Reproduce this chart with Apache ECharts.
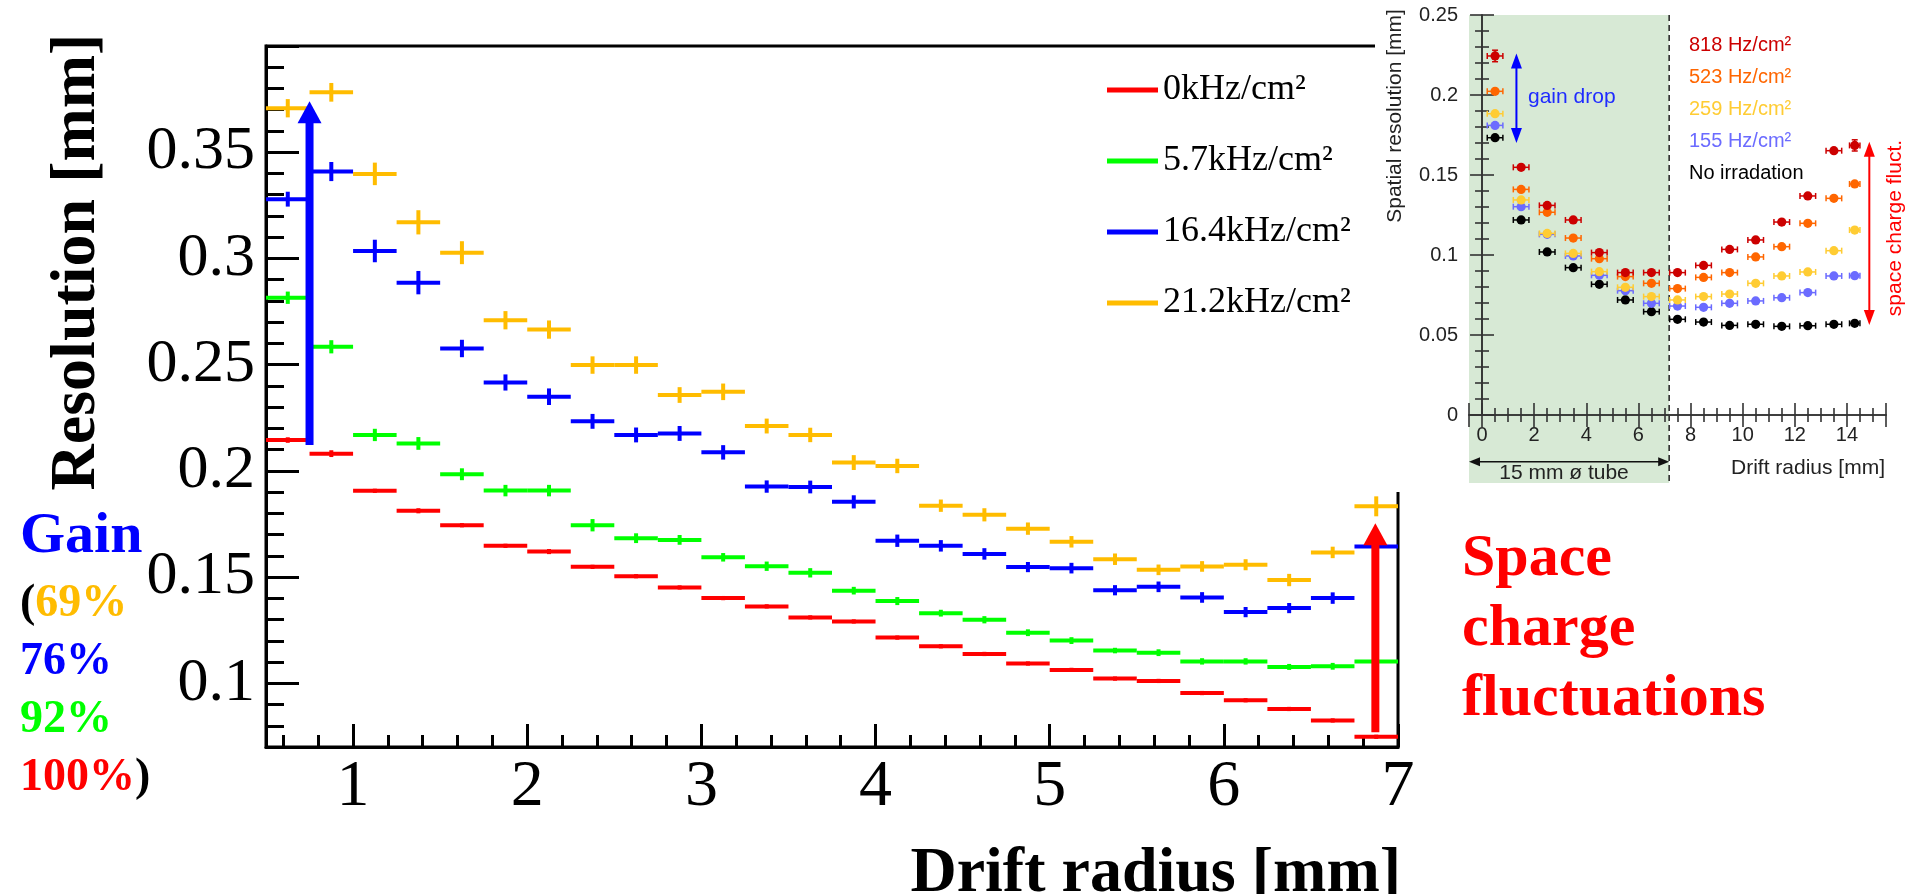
<!DOCTYPE html>
<html>
<head>
<meta charset="utf-8">
<title>Drift-tube spatial resolution vs. drift radius</title>
<script src="https://cdn.jsdelivr.net/npm/echarts@6/dist/echarts.min.js"></script>
<style>
  html, body { margin: 0; padding: 0; background: #ffffff; }
  #chart { width: 1907px; height: 894px; }
</style>
</head>
<body>
<div id="chart"></div>
<script>
// ---------- Main plot: resolution in 0.25 mm drift-radius bins ----------
const radiusBins = [0.625, 0.875, 1.125, 1.375, 1.625, 1.875, 2.125, 2.375, 2.625, 2.875,
                    3.125, 3.375, 3.625, 3.875, 4.125, 4.375, 4.625, 4.875, 5.125, 5.375,
                    5.625, 5.875, 6.125, 6.375, 6.625, 6.875];
const binHalfWidth = 0.125;

const rateLabels = ['0kHz/cm²', '5.7kHz/cm²', '16.4kHz/cm²', '21.2kHz/cm²'];
const rateColors = ['#ff0000', '#00ff00', '#0000ff', '#ffbc00'];

const res0 = [0.2145, 0.2081, 0.1906, 0.1812, 0.1744, 0.1647, 0.1620, 0.1548, 0.1504, 0.1451,
              0.1401, 0.1362, 0.1310, 0.1291, 0.1215, 0.1174, 0.1138, 0.1093, 0.1063, 0.1022,
              0.1011, 0.0954, 0.0920, 0.0879, 0.0825, 0.0748];
const res57 = [0.2815, 0.2584, 0.2169, 0.2129, 0.1984, 0.1907, 0.1907, 0.1744, 0.1683, 0.1675,
               0.1593, 0.1551, 0.1520, 0.1436, 0.1387, 0.1330, 0.1299, 0.1238, 0.1201, 0.1154,
               0.1144, 0.1103, 0.1103, 0.1077, 0.1080, 0.1103];
const res164 = [0.3279, 0.3409, 0.3035, 0.2886, 0.2576, 0.2416, 0.2349, 0.2233, 0.2169, 0.2176,
                0.2087, 0.1926, 0.1924, 0.1854, 0.1671, 0.1647, 0.1609, 0.1547, 0.1542, 0.1438,
                0.1454, 0.1404, 0.1335, 0.1354, 0.1401, 0.1644];
const res212 = [0.3707, 0.3782, 0.3398, 0.3170, 0.3027, 0.2709, 0.2665, 0.2498, 0.2498, 0.2357,
                0.2372, 0.2211, 0.2169, 0.2039, 0.2023, 0.1836, 0.1793, 0.1728, 0.1666, 0.1584,
                0.1534, 0.1550, 0.1558, 0.1486, 0.1616, 0.1833];

const err0 = [0.0013, 0.0016, 0.0010, 0.0012, 0.0010, 0.0010, 0.0012, 0.0010, 0.0010, 0.0010,
              0.0010, 0.0010, 0.0010, 0.0010, 0.0010, 0.0010, 0.0010, 0.0010, 0.0010, 0.0010,
              0.0010, 0.0010, 0.0010, 0.0010, 0.0010, 0.0010];
const err57 = [0.0029, 0.0031, 0.0029, 0.0030, 0.0028, 0.0027, 0.0027, 0.0029, 0.0023, 0.0023,
               0.0020, 0.0022, 0.0022, 0.0018, 0.0019, 0.0016, 0.0017, 0.0016, 0.0016, 0.0013,
               0.0016, 0.0015, 0.0015, 0.0014, 0.0016, 0.0010];
const err164 = [0.0035, 0.0045, 0.0053, 0.0055, 0.0041, 0.0038, 0.0039, 0.0035, 0.0035, 0.0035,
                0.0034, 0.0029, 0.0030, 0.0031, 0.0029, 0.0027, 0.0027, 0.0024, 0.0025, 0.0024,
                0.0025, 0.0025, 0.0024, 0.0024, 0.0027, 0.0020];
const err212 = [0.0043, 0.0044, 0.0053, 0.0057, 0.0054, 0.0043, 0.0043, 0.0041, 0.0041, 0.0037,
                0.0039, 0.0035, 0.0034, 0.0035, 0.0034, 0.0029, 0.0031, 0.0029, 0.0027, 0.0027,
                0.0025, 0.0025, 0.0026, 0.0029, 0.0027, 0.0047];

const mainValues = [res0, res57, res164, res212];
const mainErrors = [err0, err57, err164, err212];

// Annotation arrows on the main plot: [x, from, to]
const arrowX = [0.75, 6.87];
const arrowFrom = [0.2122, 0.077];
const arrowTo = [0.374, 0.1753];
const arrowColors = ['#0000ff', '#ff0000'];

// ---------- Inset: resolution vs drift radius for several irradiation rates ----------
const insetRadius = [0.5, 1.5, 2.5, 3.5, 4.5, 5.5, 6.5, 7.5, 8.5, 9.5, 10.5, 11.5, 12.5, 13.5, 14.3];
const insetXErr = [0.3, 0.3, 0.3, 0.3, 0.3, 0.3, 0.3, 0.3, 0.3, 0.3, 0.3, 0.3, 0.3, 0.3, 0.2];
const insetLabels = ['818 Hz/cm²', '523 Hz/cm²', '259 Hz/cm²', '155 Hz/cm²', 'No irradation'];
const insetColors = ['#cc0000', '#ff6600', '#ffcc33', '#6b6bff', '#000000'];
const res818 = [0.2244, 0.1548, 0.1310, 0.1219, 0.1015, 0.0890, 0.0890, 0.0890, 0.0935, 0.1035,
                0.1094, 0.1206, 0.1369, 0.1652, 0.1685];
const res523 = [0.2023, 0.1410, 0.1267, 0.1106, 0.0977, 0.0865, 0.0823, 0.0790, 0.0860, 0.0890,
                0.0988, 0.1052, 0.1198, 0.1354, 0.1444];
const res259 = [0.1883, 0.1344, 0.1135, 0.1010, 0.0896, 0.0798, 0.0740, 0.0719, 0.0740, 0.0756,
                0.0823, 0.0869, 0.0894, 0.1027, 0.1156];
const res155 = [0.1810, 0.1302, 0.1129, 0.0994, 0.0873, 0.0777, 0.0698, 0.0681, 0.0673, 0.0698,
                0.0713, 0.0733, 0.0765, 0.0869, 0.0871];
const resNoIrr = [0.1733, 0.1219, 0.1019, 0.0921, 0.0817, 0.0719, 0.0646, 0.0598, 0.0581, 0.0560,
                  0.0567, 0.0554, 0.0558, 0.0567, 0.0573];
const err818 = [0.0036, 0, 0, 0, 0, 0, 0, 0, 0, 0, 0, 0, 0, 0, 0.0035];
const insetValues = [res818, res523, res259, res155, resNoIrr];

// Inset annotations
const tubeEdge = 7.18;            // end of the 15 mm tube radius band
const tubeBandBottom = -0.0425;   // band continues under the tick labels
const tubeArrowY = -0.0292;
const insetArrowX = [1.32, 14.86];
const insetArrowLow = [0.17, 0.0563];
const insetArrowHigh = [0.226, 0.1708];
const insetArrowColors = ['#0000ff', '#ff0000'];

const SERIF = '"Liberation Serif", "Times New Roman", serif';
const SANS = '"Liberation Sans", Arial, Helvetica, sans-serif';

function binRenderer(color) {
  return function (params, api) {
    const x = api.value(0), y = api.value(1), e = api.value(2);
    const pL = api.coord([x - binHalfWidth, y]);
    const pR = api.coord([x + binHalfWidth, y]);
    const pT = api.coord([x, y + e]);
    const pB = api.coord([x, y - e]);
    return {
      type: 'group',
      children: [
        { type: 'line', shape: { x1: pL[0], y1: pL[1], x2: pR[0], y2: pR[1] },
          style: { stroke: color, lineWidth: 4 } },
        { type: 'line', shape: { x1: pT[0], y1: pT[1], x2: pB[0], y2: pB[1] },
          style: { stroke: color, lineWidth: 4 } }
      ]
    };
  };
}

function arrowRenderer(params, api) {
  const x = api.value(0), y0 = api.value(1), y1 = api.value(2);
  const color = arrowColors[params.dataIndex];
  const base = api.coord([x, y0]);
  const tip = api.coord([x, y1]);
  const headH = 22, headW = 12, shaftW = 8;
  return {
    type: 'group',
    children: [
      { type: 'rect', shape: { x: base[0] - shaftW / 2, y: tip[1] + headH - 1, width: shaftW, height: base[1] - tip[1] - headH + 1 },
        style: { fill: color } },
      { type: 'polygon', shape: { points: [[tip[0], tip[1]], [tip[0] - headW, tip[1] + headH], [tip[0] + headW, tip[1] + headH]] },
        style: { fill: color } }
    ]
  };
}

function insetPointRenderer(color) {
  return function (params, api) {
    const x = api.value(0), y = api.value(1), ex = api.value(2), ey = api.value(3);
    const c = api.coord([x, y]);
    const l = api.coord([x - ex, y]);
    const r = api.coord([x + ex, y]);
    const st = { stroke: color, lineWidth: 1.5 };
    const children = [
      { type: 'line', shape: { x1: l[0], y1: c[1], x2: r[0], y2: c[1] }, style: st },
      { type: 'line', shape: { x1: l[0], y1: c[1] - 3, x2: l[0], y2: c[1] + 3 }, style: st },
      { type: 'line', shape: { x1: r[0], y1: c[1] - 3, x2: r[0], y2: c[1] + 3 }, style: st }
    ];
    if (ey > 0) {
      const t = api.coord([x, y + ey]);
      const b = api.coord([x, y - ey]);
      children.push({ type: 'line', shape: { x1: c[0], y1: t[1], x2: c[0], y2: b[1] }, style: st });
      children.push({ type: 'line', shape: { x1: c[0] - 3, y1: t[1], x2: c[0] + 3, y2: t[1] }, style: st });
      children.push({ type: 'line', shape: { x1: c[0] - 3, y1: b[1], x2: c[0] + 3, y2: b[1] }, style: st });
    }
    children.push({ type: 'circle', shape: { cx: c[0], cy: c[1], r: 4.6 }, style: { fill: color } });
    return { type: 'group', children: children };
  };
}

function tubeBandRenderer(params, api) {
  const tl = api.coord([-0.5, 0.25]);
  const br = api.coord([tubeEdge, tubeBandBottom]);
  const a = api.coord([-0.5, tubeArrowY]);
  const b = api.coord([tubeEdge, tubeArrowY]);
  const hs = 11, hw = 4.5;
  return {
    type: 'group',
    children: [
      { type: 'rect', shape: { x: tl[0], y: tl[1], width: br[0] - tl[0], height: br[1] - tl[1] },
        style: { fill: '#d7e9d5' } },
      { type: 'line', shape: { x1: br[0], y1: tl[1], x2: br[0], y2: br[1] },
        style: { stroke: '#222', lineWidth: 1.5, lineDash: [6, 4] } },
      { type: 'line', shape: { x1: a[0] + 4, y1: a[1], x2: b[0] - 4, y2: b[1] },
        style: { stroke: '#111', lineWidth: 1.5 } },
      { type: 'polygon', shape: { points: [[a[0], a[1]], [a[0] + hs, a[1] - hw], [a[0] + hs, a[1] + hw]] },
        style: { fill: '#111' } },
      { type: 'polygon', shape: { points: [[b[0], b[1]], [b[0] - hs, b[1] - hw], [b[0] - hs, b[1] + hw]] },
        style: { fill: '#111' } }
    ]
  };
}

function insetArrowRenderer(params, api) {
  const x = api.value(0), lo = api.value(1), hi = api.value(2);
  const color = insetArrowColors[params.dataIndex];
  const p0 = api.coord([x, lo]);
  const p1 = api.coord([x, hi]);
  const hs = 15, hw = 5.5;
  return {
    type: 'group',
    children: [
      { type: 'line', shape: { x1: p0[0], y1: p0[1] - 4, x2: p1[0], y2: p1[1] + 4 },
        style: { stroke: color, lineWidth: 2 } },
      { type: 'polygon', shape: { points: [[p1[0], p1[1]], [p1[0] - hw, p1[1] + hs], [p1[0] + hw, p1[1] + hs]] },
        style: { fill: color } },
      { type: 'polygon', shape: { points: [[p0[0], p0[1]], [p0[0] - hw, p0[1] - hs], [p0[0] + hw, p0[1] - hs]] },
        style: { fill: color } }
    ]
  };
}

const mainSeries = rateLabels.map((name, k) => ({
  name: name,
  type: 'custom',
  xAxisIndex: 0,
  yAxisIndex: 0,
  renderItem: binRenderer(rateColors[k]),
  itemStyle: { color: rateColors[k] },
  encode: { x: 0, y: 1 },
  data: radiusBins.map((r, i) => [r, mainValues[k][i], mainErrors[k][i]]),
  z: 3
}));

const insetOrder = [4, 3, 2, 1, 0];
const insetSeries = insetOrder.map(k => ({
  name: insetLabels[k],
  type: 'custom',
  xAxisIndex: 1,
  yAxisIndex: 1,
  renderItem: insetPointRenderer(insetColors[k]),
  itemStyle: { color: insetColors[k] },
  encode: { x: 0, y: 1 },
  data: insetRadius.map((r, i) => [r, insetValues[k][i], insetXErr[i], k === 0 ? err818[i] : 0]),
  z: 40
}));

const tickLine = { color: '#000', width: 3 };
const insetLine = { color: '#333', width: 1.6 };

const option = {
  animation: false,
  backgroundColor: '#ffffff',
  grid: [
    { left: 266, top: 46, width: 1132, height: 701, show: true, borderColor: '#000', borderWidth: 3,
      backgroundColor: 'transparent', z: 0 },
    { left: 1469, top: 15, width: 417, height: 400, show: false, z: 30 }
  ],
  xAxis: [
    { gridIndex: 0, type: 'value', min: 0.5, max: 7, splitLine: { show: false },
      axisLine: { lineStyle: tickLine },
      axisTick: { inside: true, length: 23, lineStyle: tickLine },
      minorTick: { show: true, splitNumber: 5, length: 12, lineStyle: tickLine },
      axisLabel: { fontFamily: SERIF, fontSize: 66, color: '#000', margin: 8, showMinLabel: false } },
    { gridIndex: 1, type: 'value', min: -0.5, max: 15.5, splitNumber: 8, splitLine: { show: false }, z: 32,
      axisLine: { lineStyle: insetLine },
      axisTick: { inside: true, length: 12, lineStyle: insetLine },
      minorTick: { show: true, splitNumber: 4, length: 7, lineStyle: insetLine },
      axisLabel: { fontFamily: SANS, fontSize: 20, color: '#222', margin: 10, showMinLabel: false, showMaxLabel: false } },
    { gridIndex: 1, type: 'value', position: 'top', min: -0.5, max: 15.5, splitNumber: 8, splitLine: { show: false }, z: 32,
      axisLine: { lineStyle: insetLine },
      axisTick: { inside: true, length: 12, lineStyle: insetLine },
      minorTick: { show: true, splitNumber: 4, length: 7, lineStyle: insetLine },
      axisLabel: { show: false } }
  ],
  yAxis: [
    { gridIndex: 0, type: 'value', min: 0.07, max: 0.4, splitLine: { show: false },
      axisLine: { lineStyle: tickLine },
      axisTick: { inside: true, length: 33, lineStyle: tickLine },
      minorTick: { show: true, splitNumber: 5, length: 18, lineStyle: tickLine },
      axisLabel: { fontFamily: SERIF, fontSize: 62, color: '#000', margin: 11, showMinLabel: false, showMaxLabel: false } },
    { gridIndex: 1, type: 'value', min: 0, max: 0.25, splitLine: { show: false }, z: 32,
      axisLine: { lineStyle: insetLine },
      axisTick: { inside: true, length: 12, lineStyle: insetLine },
      minorTick: { show: true, splitNumber: 5, length: 7, lineStyle: insetLine },
      axisLabel: { fontFamily: SANS, fontSize: 20, color: '#222', margin: 11 } },
    { gridIndex: 1, type: 'value', position: 'right', min: 0, max: 0.25, splitLine: { show: false }, z: 32,
      axisLine: { lineStyle: insetLine },
      axisTick: { inside: true, length: 12, lineStyle: insetLine },
      minorTick: { show: true, splitNumber: 5, length: 7, lineStyle: insetLine },
      axisLabel: { show: false } }
  ],
  legend: [
    { data: rateLabels, orient: 'vertical', left: 1102, top: 65, itemWidth: 51, itemHeight: 5,
      icon: 'rect', itemGap: 31, selectedMode: false,
      textStyle: { fontFamily: SERIF, fontSize: 36, color: '#000', lineHeight: 40 } },
    { data: insetLabels.map((n, k) => ({ name: n, icon: 'none', textStyle: { color: insetColors[k] } })),
      orient: 'vertical', left: 1679, top: 29, itemWidth: 0, itemHeight: 10, itemGap: 10, selectedMode: false, z: 45,
      textStyle: { fontFamily: SANS, fontSize: 20, lineHeight: 22 } }
  ],
  graphic: {
    elements: [
      // white panel carrying the inset figure
      { type: 'rect', left: 1375, top: 0, shape: { width: 532, height: 492 }, style: { fill: '#ffffff' }, z: 20 },
      { type: 'text', x: 77, y: 262, rotation: Math.PI / 2, z: 10,
        style: { text: 'Resolution [mm]', font: 'bold 64px ' + SERIF, fill: '#000',
                 align: 'center', verticalAlign: 'middle', textAlign: 'center', textVerticalAlign: 'middle' } },
      { type: 'text', x: 1401, y: 874, z: 10,
        style: { text: 'Drift radius [mm]', font: 'bold 64px ' + SERIF, fill: '#000',
                 align: 'right', verticalAlign: 'middle', textAlign: 'right', textVerticalAlign: 'middle' } },
      { type: 'text', x: 20, y: 537, z: 10,
        style: { text: 'Gain', font: 'bold 58px ' + SERIF, fill: '#0000ff',
                 align: 'left', verticalAlign: 'middle', textAlign: 'left', textVerticalAlign: 'middle' } },
      { type: 'text', x: 20, y: 604, z: 10,
        style: { text: '{k|(}{a|69%}', font: 'bold 46px ' + SERIF, verticalAlign: 'middle', textVerticalAlign: 'middle',
                 rich: { k: { fill: '#000', color: '#000', font: 'bold 46px ' + SERIF },
                         a: { fill: '#ffbc00', color: '#ffbc00', font: 'bold 46px ' + SERIF } } } },
      { type: 'text', x: 20, y: 662, z: 10,
        style: { text: '76%', font: 'bold 46px ' + SERIF, fill: '#0000ff', verticalAlign: 'middle', textVerticalAlign: 'middle' } },
      { type: 'text', x: 20, y: 720, z: 10,
        style: { text: '92%', font: 'bold 46px ' + SERIF, fill: '#00ff00', verticalAlign: 'middle', textVerticalAlign: 'middle' } },
      { type: 'text', x: 20, y: 778, z: 10,
        style: { text: '{a|100%}{k|)}', font: 'bold 46px ' + SERIF, verticalAlign: 'middle', textVerticalAlign: 'middle',
                 rich: { k: { fill: '#000', color: '#000', font: 'bold 46px ' + SERIF },
                         a: { fill: '#ff0000', color: '#ff0000', font: 'bold 46px ' + SERIF } } } },
      { type: 'text', x: 1462, y: 524, z: 10,
        style: { text: 'Space\ncharge\nfluctuations', font: 'bold 60px ' + SERIF, fill: '#ff0000', lineHeight: 70,
                 align: 'left', verticalAlign: 'top', textAlign: 'left', textVerticalAlign: 'top' } },
      // inset texts
      { type: 'text', x: 1395, y: 116, rotation: Math.PI / 2, z: 46,
        style: { text: 'Spatial resolution [mm]', font: '21px ' + SANS, fill: '#222',
                 align: 'center', verticalAlign: 'middle', textAlign: 'center', textVerticalAlign: 'middle' } },
      { type: 'text', x: 1885, y: 468, z: 46,
        style: { text: 'Drift radius [mm]', font: '21px ' + SANS, fill: '#222',
                 align: 'right', verticalAlign: 'middle', textAlign: 'right', textVerticalAlign: 'middle' } },
      { type: 'text', x: 1564, y: 473, z: 46,
        style: { text: '15 mm ø tube', font: '21px ' + SANS, fill: '#222',
                 align: 'center', verticalAlign: 'middle', textAlign: 'center', textVerticalAlign: 'middle' } },
      { type: 'text', x: 1528, y: 97, z: 46,
        style: { text: 'gain drop', font: '21px ' + SANS, fill: '#1f2bff',
                 align: 'left', verticalAlign: 'middle', textAlign: 'left', textVerticalAlign: 'middle' } },
      { type: 'text', x: 1895, y: 228, rotation: Math.PI / 2, z: 46,
        style: { text: 'space charge fluct.', font: '21px ' + SANS, fill: '#ff0000',
                 align: 'center', verticalAlign: 'middle', textAlign: 'center', textVerticalAlign: 'middle' } }
    ]
  },
  series: mainSeries.concat([
    { name: 'arrows', type: 'custom', xAxisIndex: 0, yAxisIndex: 0, renderItem: arrowRenderer, z: 6,
      encode: { x: 0, y: 1 },
      data: arrowX.map((x, i) => [x, arrowFrom[i], arrowTo[i]]) },
    { name: 'tube band', type: 'custom', xAxisIndex: 1, yAxisIndex: 1, renderItem: tubeBandRenderer, z: 25,
      clip: false, encode: { x: 0, y: 1 }, data: [[tubeEdge, 0.25]] },
    { name: 'inset arrows', type: 'custom', xAxisIndex: 1, yAxisIndex: 1, renderItem: insetArrowRenderer, z: 42,
      clip: false, encode: { x: 0, y: 1 },
      data: insetArrowX.map((x, i) => [x, insetArrowLow[i], insetArrowHigh[i]]) }
  ]).concat(insetSeries)
};

const chart = echarts.init(document.getElementById('chart'), null, { renderer: 'canvas', width: 1907, height: 894 });
chart.setOption(option);
</script>
</body>
</html>
